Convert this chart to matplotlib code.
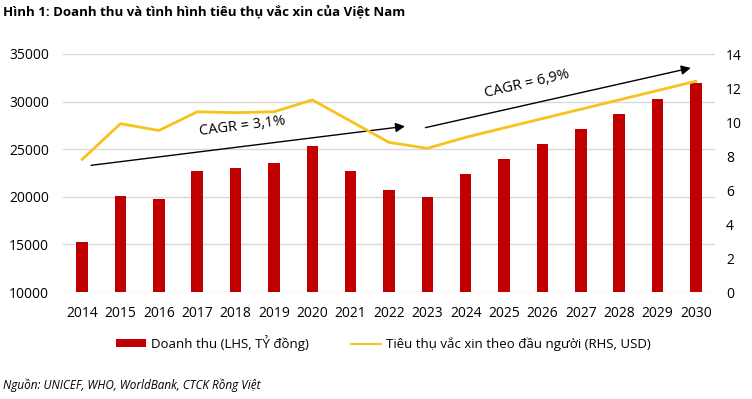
import numpy as np
import matplotlib.pyplot as plt
from matplotlib.patches import Patch
from matplotlib.lines import Line2D

plt.rcParams['font.family'] = ['Open Sans', 'DejaVu Sans']

years = ['2014', '2015', '2016', '2017', '2018', '2019', '2020', '2021', '2022',
         '2023', '2024', '2025', '2026', '2027', '2028', '2029', '2030']
doanh_thu = [15250, 20100, 19780, 22700, 23000, 23550, 25300, 22700, 20700,
             19980, 22400, 24000, 25550, 27100, 28700, 30300, 32000]
tieu_thu = [7.8, 9.9, 9.5, 10.6, 10.55, 10.6, 11.3, 10.05, 8.8,
            8.45, 9.1, 9.65, 10.2, 10.75, 11.3, 11.85, 12.4]

RED = '#C00000'
YELLOW = '#F8C21C'

fig = plt.figure(figsize=(7.52, 3.99), dpi=100)
ax = fig.add_axes([63 / 752, 1 - 292 / 399, 652 / 752, 238 / 399])
x = np.arange(len(years))

ax.bar(x, [v - 10000 for v in doanh_thu], bottom=10000, width=0.3, color=RED, zorder=3)
ax.set_ylim(10000, 35000)
ax.set_yticks(range(10000, 35001, 5000))
ax.set_xlim(-0.5, 16.5)
ax.set_xticks(x)
ax.set_xticklabels(years)
ax.grid(axis='y', color='#D9D9D9', linewidth=1, zorder=0)
for s in ax.spines.values():
    s.set_visible(False)
ax.tick_params(length=0, labelsize=10, pad=10)
ax.tick_params(axis='y', pad=10)

ax2 = ax.twinx()
ax2.plot(x, tieu_thu, color=YELLOW, linewidth=2, zorder=4)
ax2.set_ylim(0, 14)
ax2.set_yticks(range(0, 15, 2))
for s in ax2.spines.values():
    s.set_visible(False)
ax2.tick_params(length=0, labelsize=10, pad=8)

# CAGR arrows (left-axis coords)
ax.annotate('', xy=(8.49, 27440), xytext=(0.16, 23270),
            arrowprops=dict(arrowstyle='-|>', color='black', lw=1, mutation_scale=14), zorder=5)
ax.annotate('', xy=(15.94, 33600), xytext=(8.88, 27200),
            arrowprops=dict(arrowstyle='-|>', color='black', lw=1, mutation_scale=14), zorder=5)
ax.text(4.17, 27400, 'CAGR = 3,1%', fontsize=10.5, rotation=7, ha='center', va='center', zorder=6)
ax.text(11.6, 31850, 'CAGR = 6,9%', fontsize=10.5, rotation=13, ha='center', va='center', zorder=6)

fig.text(3 / 752, 1 - 12 / 399, 'Hình 1: Doanh thu và tình hình tiêu thụ vắc xin của Việt Nam',
         fontsize=9.5, fontweight='bold', ha='left', va='center')

handles = [Patch(facecolor=RED, edgecolor='none'),
           Line2D([0], [0], color=YELLOW, linewidth=1.5)]
labels = ['Doanh thu (LHS, TỶ đồng)', 'Tiêu thụ vắc xin theo đầu người (RHS, USD)']
fig.legend(handles, labels, loc='center', bbox_to_anchor=(383 / 752, 1 - 343 / 399), ncol=2,
           frameon=False, fontsize=9.5, handlelength=2.3, handleheight=0.55,
           columnspacing=3.2, handletextpad=0.35)

fig.text(3 / 752, 1 - 385 / 399, 'Nguồn: UNICEF, WHO, WorldBank, CTCK Rồng Việt',
         fontsize=8.5, fontstyle='italic', ha='left', va='center')

fig.savefig('out.png', dpi=100)
